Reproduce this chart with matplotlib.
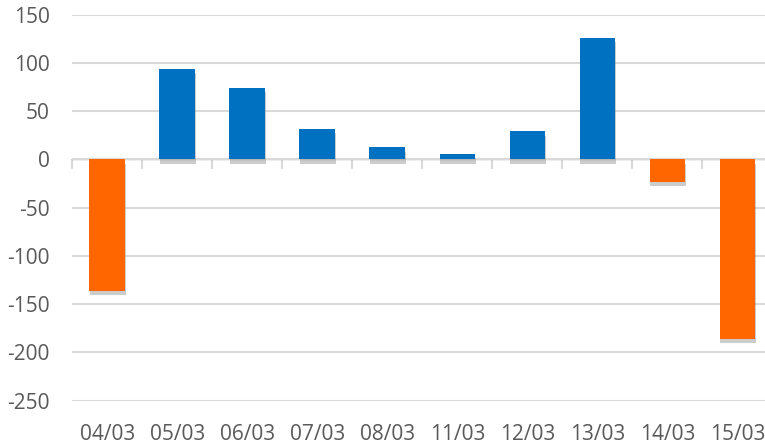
import numpy as np
import matplotlib
matplotlib.use('Agg')
import matplotlib.pyplot as plt
import matplotlib.patheffects as pe

# Data
dates = ['04/03', '05/03', '06/03', '07/03', '08/03',
         '11/03', '12/03', '13/03', '14/03', '15/03']
values = [-136, 94, 74, 32, 12.5, 6, 29, 126, -23, -186]

blue = '#0070C0'
orange = '#FF6600'
grid_c = '#D9D9D9'
text_c = '#595959'

plt.rcParams['font.family'] = ['Open Sans', 'DejaVu Sans']
plt.rcParams['axes.unicode_minus'] = False

fig = plt.figure(figsize=(7.65, 4.47), dpi=100)
ax = fig.add_axes([72.2 / 765, 1 - 400.7 / 447, 700.3 / 765, 386.0 / 447])

x = np.arange(len(dates))
colors = [blue if v >= 0 else orange for v in values]
bars = ax.bar(x, values, width=0.51, color=colors, zorder=3)
for b in bars:
    b.set_path_effects([pe.SimplePatchShadow(offset=(0.5, -3), shadow_rgbFace='#808080', alpha=0.4),
                        pe.Normal()])

ax.set_xlim(-0.5, len(dates) - 0.5)
ax.set_ylim(-250, 150)
ax.set_yticks(np.arange(-250, 151, 50))
ax.yaxis.grid(True, color=grid_c, linewidth=1.5, zorder=0)
ax.set_axisbelow(True)

for s in ax.spines.values():
    s.set_visible(False)

ax.set_xticks(x)
ax.set_xticklabels(dates)
ax.tick_params(axis='both', length=0, labelsize=15, labelcolor=text_c)
ax.tick_params(axis='y', pad=16)
ax.tick_params(axis='x', pad=17)

# zero line with category separators hanging below it
zero = ax.secondary_xaxis(250 / 400)
zero.spines['bottom'].set_color(grid_c)
zero.spines['bottom'].set_linewidth(1.5)
zero.set_xticks(np.arange(-0.5, len(dates), 1.0))
zero.set_xticklabels([])
zero.tick_params(axis='x', length=7, width=1.5, color=grid_c, direction='in')

fig.savefig('out.png', dpi=100)
